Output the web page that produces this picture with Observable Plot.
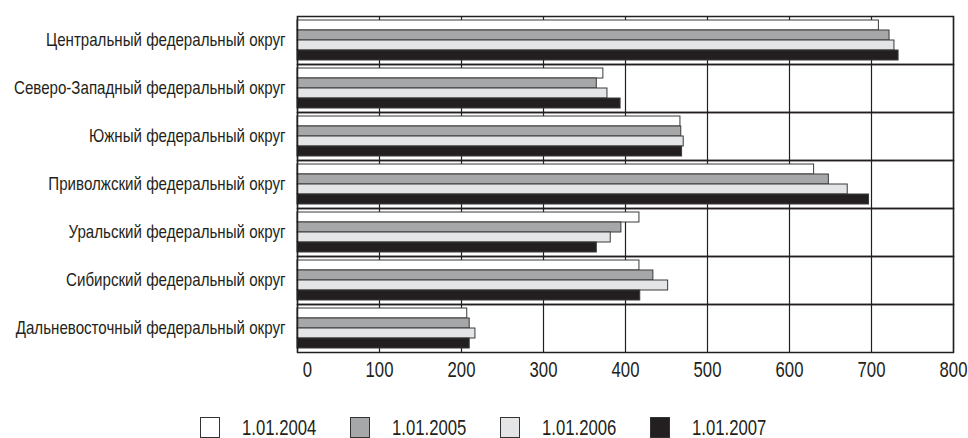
<!DOCTYPE html>
<html>
<head>
<meta charset="utf-8">
<script src="https://cdn.jsdelivr.net/npm/d3@7"></script>
<script src="https://cdn.jsdelivr.net/npm/@observablehq/plot@0.6"></script>
<style>
  body { margin: 0; background: #fff; font-family: "Liberation Sans", Arial, sans-serif; color: #231f20; overflow: hidden; }
  #chart { width: 968px; }
  .legend { position: relative; height: 43px; }
  .item { position: absolute; top: 22px; display: flex; align-items: center; font-size: 22px; line-height: 20px; }
  .sw { width: 20px; height: 21px; box-sizing: border-box; border: 1px solid #333; margin-right: 22px; flex: none; }
  .item span { display: inline-block; transform: scaleX(0.76); transform-origin: left center; }
</style>
</head>
<body>
<div id="chart"></div>
<script>
const categories = [
  "Центральный федеральный округ",
  "Северо-Западный федеральный округ",
  "Южный федеральный округ",
  "Приволжский федеральный округ",
  "Уральский федеральный округ",
  "Сибирский федеральный округ",
  "Дальневосточный федеральный округ"
];
const series = ["1.01.2004", "1.01.2005", "1.01.2006", "1.01.2007"];
const v2004 = [709, 373, 467, 630, 417, 417, 207];
const v2005 = [722, 365, 468, 648, 395, 434, 210];
const v2006 = [728, 378, 471, 671, 382, 452, 217];
const v2007 = [733, 394, 469, 697, 365, 418, 210];
const xTicks = [0, 100, 200, 300, 400, 500, 600, 700, 800];
const colors = ["#ffffff", "#a6a7a9", "#e4e5e6", "#231f20"];

const valuesBySeries = [v2004, v2005, v2006, v2007];
const data = [];
categories.forEach((c, i) => {
  series.forEach((s, j) => data.push({category: c, series: s, value: valuesBySeries[j][i]}));
});

const ink = "#231f20";
const chart = Plot.plot({
  width: 968,
  height: 395,
  marginTop: 15,
  marginBottom: 43,
  marginLeft: 297,
  marginRight: 15,
  style: {fontFamily: "'Liberation Sans', Arial, sans-serif", fontSize: "18px", color: ink, background: "#fff"},
  x: {domain: [0, 800], label: null, axis: null},
  y: {domain: series, axis: null, paddingInner: 0, paddingOuter: 0.4},
  fy: {domain: categories, padding: 0, label: null, axis: null},
  color: {domain: series, range: colors},
  marks: [
    Plot.gridX(xTicks, {stroke: ink, strokeOpacity: 1, strokeWidth: 1.2}),
    Plot.barX(data, {x: "value", y: "series", fy: "category", fill: "series", stroke: "#3a3a3a", strokeWidth: 1}),
    Plot.frame({stroke: ink, strokeWidth: 1.5}),
    Plot.axisFy({anchor: "left", tickSize: 0, tickPadding: 12, label: null, fontSize: "18px", className: "fyax"}),
    Plot.axisX({ticks: xTicks, tickSize: 0, tickPadding: 9, label: null, fontSize: "22px", facetAnchor: "bottom", className: "xax"})
  ]
});
function squeeze(sel, s) {
  chart.querySelectorAll(sel + " text").forEach(t => {
    const x = +t.getAttribute("x") || 0;
    const tr = t.getAttribute("transform") || "";
    t.setAttribute("transform", `${tr} translate(${x},0) scale(${s},1) translate(${-x},0)`);
  });
}
squeeze(".fyax", 0.84);
squeeze(".xax", 0.76);
// the reference sets the "0" label slightly right of its gridline
const zeroLabel = Array.from(chart.querySelectorAll(".xax text")).find(t => t.textContent.trim() === "0");
if (zeroLabel) zeroLabel.setAttribute("transform", "translate(10,0) " + (zeroLabel.getAttribute("transform") || ""));
document.getElementById("chart").appendChild(chart);

const legend = document.createElement("div");
legend.className = "legend";
series.forEach((s, j) => {
  const it = document.createElement("div");
  it.className = "item";
  it.style.left = (200 + j * 150) + "px";
  const sw = document.createElement("div");
  sw.className = "sw";
  sw.style.background = colors[j];
  const t = document.createElement("span");
  t.textContent = s;
  it.appendChild(sw);
  it.appendChild(t);
  legend.appendChild(it);
});
document.getElementById("chart").appendChild(legend);
</script>
</body>
</html>
